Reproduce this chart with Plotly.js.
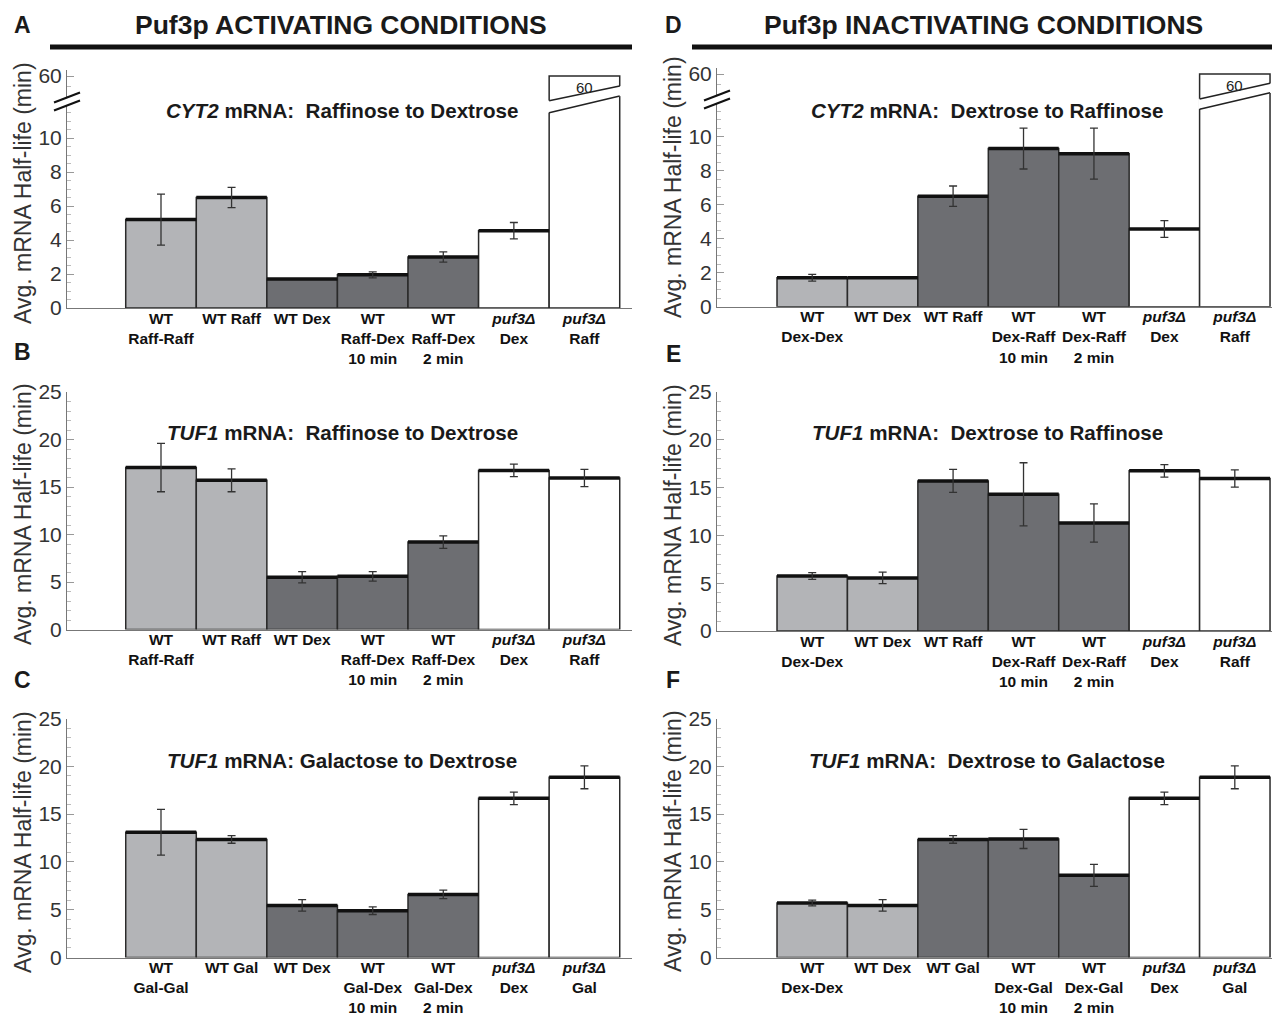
<!DOCTYPE html>
<html>
<head>
<meta charset="utf-8">
<script src="https://cdn.plot.ly/plotly-3.0.1.min.js"></script>
<style>html,body{margin:0;padding:0;background:#fff;}#chart{width:1275px;height:1016px;}</style>
</head>
<body>
<div id="chart"></div>
<script>
// ---------- DATA ----------
const labelsA = ['WT<br>Raff-Raff','WT Raff','WT Dex','WT<br>Raff-Dex<br>10 min','WT<br>Raff-Dex<br>2 min','<i>puf3Δ</i><br>Dex','<i>puf3Δ</i><br>Raff'];
const valuesA = [5.2, 6.5, 1.7, 1.95, 3.0, 4.55, 60];
const errorsA = [1.5, 0.6, 0, 0.18, 0.3, 0.48, 0];

const labelsB = ['WT<br>Raff-Raff','WT Raff','WT Dex','WT<br>Raff-Dex<br>10 min','WT<br>Raff-Dex<br>2 min','<i>puf3Δ</i><br>Dex','<i>puf3Δ</i><br>Raff'];
const valuesB = [17.05, 15.7, 5.5, 5.6, 9.2, 16.75, 15.95];
const errorsB = [2.55, 1.2, 0.6, 0.5, 0.65, 0.65, 0.9];

const labelsC = ['WT<br>Gal-Gal','WT Gal','WT Dex','WT<br>Gal-Dex<br>10 min','WT<br>Gal-Dex<br>2 min','<i>puf3Δ</i><br>Dex','<i>puf3Δ</i><br>Gal'];
const valuesC = [13.1, 12.35, 5.45, 4.9, 6.6, 16.65, 18.85];
const errorsC = [2.4, 0.4, 0.6, 0.4, 0.45, 0.65, 1.2];

const labelsD = ['WT<br>Dex-Dex','WT Dex','WT Raff','WT<br>Dex-Raff<br>10 min','WT<br>Dex-Raff<br>2 min','<i>puf3Δ</i><br>Dex','<i>puf3Δ</i><br>Raff'];
const valuesD = [1.7, 1.7, 6.5, 9.3, 9.0, 4.57, 60];
const errorsD = [0.2, 0, 0.6, 1.2, 1.5, 0.49, 0];

const labelsE = ['WT<br>Dex-Dex','WT Dex','WT Raff','WT<br>Dex-Raff<br>10 min','WT<br>Dex-Raff<br>2 min','<i>puf3Δ</i><br>Dex','<i>puf3Δ</i><br>Raff'];
const valuesE = [5.75, 5.55, 15.7, 14.3, 11.3, 16.75, 15.95];
const errorsE = [0.35, 0.6, 1.2, 3.3, 2.0, 0.65, 0.9];

const labelsF = ['WT<br>Dex-Dex','WT Dex','WT Gal','WT<br>Dex-Gal<br>10 min','WT<br>Dex-Gal<br>2 min','<i>puf3Δ</i><br>Dex','<i>puf3Δ</i><br>Gal'];
const valuesF = [5.7, 5.45, 12.35, 12.4, 8.6, 16.65, 18.85];
const errorsF = [0.3, 0.6, 0.4, 1.0, 1.15, 0.65, 1.2];

const groupsLeft  = ['light','light','dark','dark','dark','white','white'];
const groupsRight = ['light','light','dark','dark','dark','white','white'];

const subtitleA = '<b><i>CYT2</i> mRNA:\u00a0 Raffinose to Dextrose</b>';
const subtitleB = '<b><i>TUF1</i> mRNA:\u00a0 Raffinose to Dextrose</b>';
const subtitleC = '<b><i>TUF1</i> mRNA: Galactose to Dextrose</b>';
const subtitleD = '<b><i>CYT2</i> mRNA:\u00a0 Dextrose to Raffinose</b>';
const subtitleE = '<b><i>TUF1</i> mRNA:\u00a0 Dextrose to Raffinose</b>';
const subtitleF = '<b><i>TUF1</i> mRNA:\u00a0 Dextrose to Galactose</b>';
const yTitle = 'Avg. mRNA Half-life (min)';

// ---------- STYLE / GEOMETRY ----------
const W = 1275, H = 1016;
const FONT = 'Liberation Sans, Arial, Helvetica, sans-serif';
const FILL = {light:'#b3b4b7', dark:'#6d6e72', white:'#ffffff'};
const px = v => v / W;
const py = v => 1 - v / H;
const ydom = (top, bottom) => [1 - bottom / H, 1 - top / H];
const cats = [0,1,2,3,4,5,6];
const fmtLabel = s => s.split('<br>').map(l => '<b>' + l + '</b>').join('<br>');

const leftX  = {domain:[px(67), px(632)],  range:[-1.332, 6.674]};
const rightX = {domain:[px(717), px(1272)], range:[-1.352, 6.528]};

function seq(a, b, step, skip) {
  const out = [];
  for (let v = a; v <= b + 1e-9; v += step) {
    const r = Math.round(v * 100) / 100;
    if (!skip || !skip.some(s => Math.abs(s - r) < 1e-6)) out.push(r);
  }
  return out;
}

function xaxis(base, labels, anchor, visible) {
  return {
    domain: base.domain, range: base.range, anchor: anchor,
    visible: visible, showline: true, linecolor: '#777', linewidth: 1,
    ticks: '', tickvals: cats, ticktext: labels.map(fmtLabel),
    ticklabelstandoff: -4,
    tickfont: {family: FONT, size: 15.5, color: '#111'},
    showgrid: false, zeroline: false, fixedrange: true
  };
}
function yaxis(dom, range, majors, minors, anchor) {
  return {
    domain: dom, range: range, anchor: anchor,
    showline: true, linecolor: '#777', linewidth: 1,
    ticks: 'inside', ticklen: 7, tickcolor: '#999', tickwidth: 1,
    tickmode: 'array', tickvals: majors, ticktext: majors.map(String),
    tickfont: {family: FONT, size: 21, color: '#333'},
    minor: {ticks: 'inside', ticklen: 4, tickcolor: '#bbb', tickwidth: 1, tickmode: 'array', tickvals: minors},
    showgrid: false, zeroline: false, fixedrange: true
  };
}

function panelTraces(values, errors, groups, xa, ya, withTop) {
  const tr = [];
  tr.push({
    type: 'bar', x: cats, y: values, xaxis: xa, yaxis: ya, width: 1,
    marker: {color: groups.map(g => FILL[g]), line: {color: '#2a2a2a', width: 1.5}},
    hoverinfo: 'skip'
  });
  if (withTop) {
    const lx = [], ly = [];
    values.forEach((v, i) => { lx.push(i - 0.5, i + 0.5, null); ly.push(v, v, null); });
    tr.push({type: 'scatter', mode: 'lines', x: lx, y: ly, xaxis: xa, yaxis: ya,
             line: {color: '#111', width: 3.5}, hoverinfo: 'skip', cliponaxis: true});
  }
  const ex = [], ey = [], ee = [];
  values.forEach((v, i) => { if (errors[i] > 0) { ex.push(i); ey.push(v); ee.push(errors[i]); } });
  tr.push({type: 'scatter', mode: 'markers', x: ex, y: ey, xaxis: xa, yaxis: ya,
           marker: {size: 1, color: 'rgba(0,0,0,0)'},
           error_y: {type: 'data', array: ee, visible: true, color: '#333', thickness: 1.3, width: 4},
           hoverinfo: 'skip'});
  return tr;
}

// ---------- TRACES ----------
let data = [];
data = data.concat(panelTraces(valuesA, errorsA, groupsLeft, 'x', 'y', true));
data = data.concat(panelTraces(valuesA, errorsA, groupsLeft, 'x2', 'y2', false));
data = data.concat(panelTraces(valuesB, errorsB, groupsLeft, 'x3', 'y3', true));
data = data.concat(panelTraces(valuesC, errorsC, groupsLeft, 'x4', 'y4', true));
data = data.concat(panelTraces(valuesD, errorsD, groupsRight, 'x5', 'y5', true));
data = data.concat(panelTraces(valuesD, errorsD, groupsRight, 'x6', 'y6', false));
data = data.concat(panelTraces(valuesE, errorsE, groupsRight, 'x7', 'y7', true));
data = data.concat(panelTraces(valuesF, errorsF, groupsRight, 'x8', 'y8', true));

// ---------- LAYOUT ----------
const lowMinor = seq(0.5, 11.5, 0.5, [2,4,6,8,10]);
const upMinor = [59, 59.5];
const minor25 = seq(1, 24, 1, [5,10,15,20]);
const major25 = [0,5,10,15,20,25];
const majorLow = [0,2,4,6,8,10];

const layout = {
  width: W, height: H,
  margin: {l: 0, r: 0, t: 0, b: 0},
  paper_bgcolor: '#fff', plot_bgcolor: 'rgba(0,0,0,0)',
  showlegend: false, bargap: 0, barmode: 'overlay',
  font: {family: FONT, color: '#222'},

  xaxis:  xaxis(leftX, labelsA, 'y', true),
  yaxis:  yaxis(ydom(99, 308), [0, (308 - 99) / 17], majorLow, lowMinor, 'x'),
  xaxis2: xaxis(leftX, labelsA, 'y2', false),
  yaxis2: yaxis(ydom(70, 99), [58.85, 60.3], [60], upMinor, 'x2'),
  xaxis3: xaxis(leftX, labelsB, 'y3', true),
  yaxis3: yaxis(ydom(392, 629.5), [0, 25], major25, minor25, 'x3'),
  xaxis4: xaxis(leftX, labelsC, 'y4', true),
  yaxis4: yaxis(ydom(718.5, 957.5), [0, 25], major25, minor25, 'x4'),

  xaxis5: xaxis(rightX, labelsD, 'y5', true),
  yaxis5: yaxis(ydom(97, 306.7), [0, (306.7 - 97) / 17], majorLow, lowMinor, 'x5'),
  xaxis6: xaxis(rightX, labelsD, 'y6', false),
  yaxis6: yaxis(ydom(68, 97), [58.85, 60.3], [60], upMinor, 'x6'),
  xaxis7: xaxis(rightX, labelsE, 'y7', true),
  yaxis7: yaxis(ydom(392, 631), [0, 25], major25, minor25, 'x7'),
  xaxis8: xaxis(rightX, labelsF, 'y8', true),
  yaxis8: yaxis(ydom(718.5, 957.5), [0, 25], major25, minor25, 'x8'),

  annotations: [],
  shapes: []
};

const ann = layout.annotations;
const sh = layout.shapes;
function paperText(text, x, y, size, extra) {
  ann.push(Object.assign({text: text, x: px(x), y: py(y), xref: 'paper', yref: 'paper',
    showarrow: false, xanchor: 'center', yanchor: 'middle',
    font: {family: FONT, size: size, color: '#1a1a1a'}}, extra || {}));
}
// panel letters
[['A',22,25],['B',22,352],['C',22,680],['D',673,25],['E',673,354],['F',673,680]].forEach(p =>
  paperText('<b>' + p[0] + '</b>', p[1], p[2], 23));
// headers
paperText('<b>Puf3p ACTIVATING CONDITIONS</b>', 341, 25, 26.5);
paperText('<b>Puf3p INACTIVATING CONDITIONS</b>', 983, 25, 26.5);
sh.push({type: 'line', xref: 'paper', yref: 'paper', x0: px(50), x1: px(632), y0: py(47), y1: py(47), line: {color: '#111', width: 5}});
sh.push({type: 'line', xref: 'paper', yref: 'paper', x0: px(692), x1: px(1272), y0: py(47), y1: py(47), line: {color: '#111', width: 5}});
// subtitles
paperText(subtitleA, 342, 110, 20.6);
paperText(subtitleB, 342, 432, 20.6);
paperText(subtitleC, 342, 760, 20.6);
paperText(subtitleD, 987, 110, 20.6);
paperText(subtitleE, 987, 432, 20.6);
paperText(subtitleF, 987, 760, 20.6);
// y titles
[[23,193],[23,514],[23,842],[673,187],[673,515],[673,841]].forEach(p =>
  paperText(yTitle, p[0], p[1], 23, {textangle: -90, font: {family: FONT, size: 23, color: '#333'}}));

// value label of the broken bars
ann.push({text: String(valuesA[6]), x: 6, y: valuesA[6], xref: 'x2', yref: 'y2', showarrow: false,
  yanchor: 'top', yshift: -1, font: {family: FONT, size: 15, color: '#222'}});
ann.push({text: String(valuesD[6]), x: 6, y: valuesD[6], xref: 'x6', yref: 'y6', showarrow: false,
  yanchor: 'top', yshift: -1, font: {family: FONT, size: 15, color: '#222'}});

// broken bar gaps (x in bar units, y in page pixels)
function barBreak(xref, i, upL, upR, loL, loR) {
  const x0 = i - 0.52, x1 = i + 0.52, a = i - 0.5, b = i + 0.5;
  sh.push({type: 'path', xref: xref, yref: 'paper', layer: 'above',
    path: `M${x0},${py(upL)} L${x1},${py(upR)} L${x1},${py(loR)} L${x0},${py(loL)} Z`,
    fillcolor: '#fff', line: {width: 0}});
  sh.push({type: 'line', xref: xref, yref: 'paper', layer: 'above', x0: a, x1: b, y0: py(upL), y1: py(upR), line: {color: '#222', width: 1.6}});
  sh.push({type: 'line', xref: xref, yref: 'paper', layer: 'above', x0: a, x1: b, y0: py(loL), y1: py(loR), line: {color: '#222', width: 1.6}});
}
barBreak('x', 6, 100.7, 86, 112.7, 96);
barBreak('x5', 6, 99, 83.3, 109.3, 92.7);

// axis break slashes
function axisBreak(ax, cy) {
  sh.push({type: 'path', xref: 'paper', yref: 'paper', layer: 'above',
    path: `M${px(ax-12)},${py(cy+2)} L${px(ax+12)},${py(cy-7)} L${px(ax+12)},${py(cy+1)} L${px(ax-12)},${py(cy+10)} Z`,
    fillcolor: '#fff', line: {width: 0}});
  sh.push({type: 'line', xref: 'paper', yref: 'paper', layer: 'above', x0: px(ax-13), x1: px(ax+13), y0: py(cy+2.5), y1: py(cy-7.5), line: {color: '#111', width: 2.2}});
  sh.push({type: 'line', xref: 'paper', yref: 'paper', layer: 'above', x0: px(ax-13), x1: px(ax+13), y0: py(cy+10.5), y1: py(cy+0.5), line: {color: '#111', width: 2.2}});
}
axisBreak(67, 100);
axisBreak(717, 98);

Plotly.newPlot('chart', data, layout, {staticPlot: true, displayModeBar: false});
</script>
</body>
</html>
